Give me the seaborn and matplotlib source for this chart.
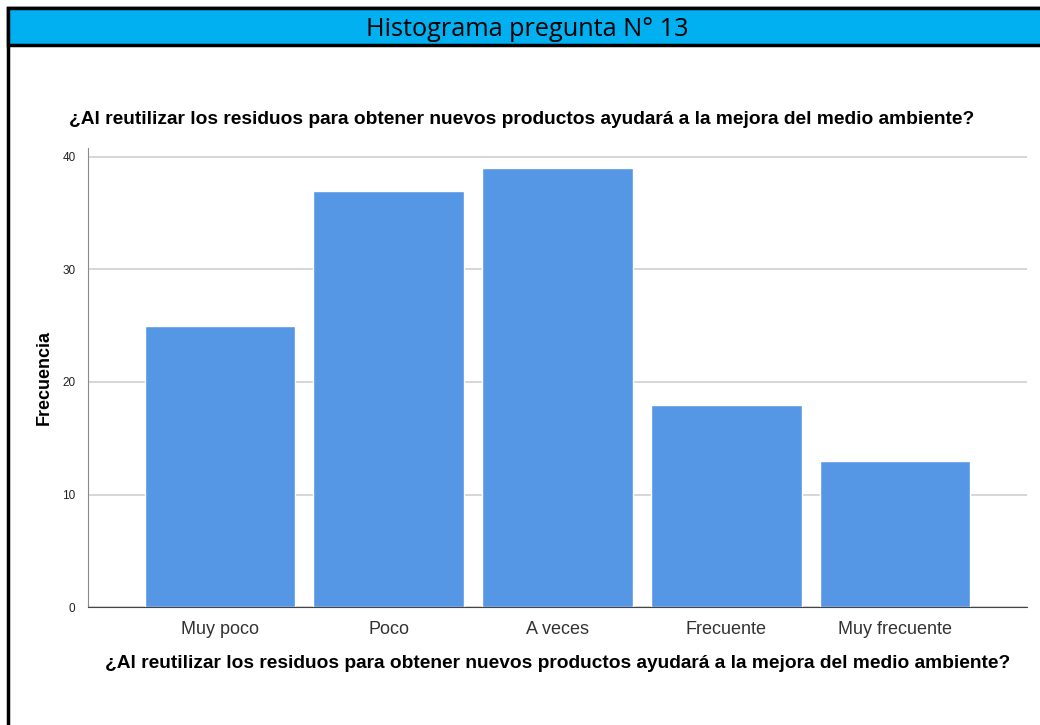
import matplotlib.pyplot as plt
import matplotlib.patches as mpatches
import pandas as pd
import seaborn as sns

categorias = ["Muy poco", "Poco", "A veces", "Frecuente", "Muy frecuente"]
frecuencias = [25, 37, 39, 18, 13]
pregunta = "¿Al reutilizar los residuos para obtener nuevos productos ayudará a la mejora del medio ambiente?"
encabezado = "Histograma pregunta N° 13"

df = pd.DataFrame({"categoria": categorias, "frecuencia": frecuencias})

sns.set_style("white")
plt.rcParams['font.family'] = ['Liberation Sans', 'DejaVu Sans']

W, H = 1040, 725
fig = plt.figure(figsize=(W / 100, H / 100), dpi=100)

# marco exterior y banda del encabezado
fig.patches.append(mpatches.Rectangle((8 / W, -0.1), 1.2, 1.1 - 8 / H, transform=fig.transFigure,
                                      facecolor='none', edgecolor='black', linewidth=2.5, zorder=3))
fig.patches.append(mpatches.Rectangle((8 / W, 1 - 45 / H), 1.2, 37 / H, transform=fig.transFigure,
                                      facecolor='#00B0F0', edgecolor='black', linewidth=2.5, zorder=3))
fig.text(527 / W, 1 - 29 / H, encabezado, ha='center', va='center', fontsize=18.2,
         family=['Open Sans', 'DejaVu Sans'], color='black', zorder=4)

ax = fig.add_axes([88 / W, 1 - 607 / H, (1027 - 88) / W, (607 - 148) / H])
ax.set_facecolor('none')
sns.barplot(data=df, x="categoria", y="frecuencia", color="#5596E5", saturation=1,
            width=0.89, ax=ax, zorder=2)

ax.set_xlim(-0.78, 4.78)
ax.set_ylim(0, 40.8)
ax.set_yticks([0, 10, 20, 30, 40])
ax.yaxis.grid(True, color='#CFCFCF', linewidth=1.2, zorder=0)
ax.set_axisbelow(True)
for s in ['top', 'right']:
    ax.spines[s].set_visible(False)
ax.spines['left'].set_color('#8A8A8A')
ax.spines['bottom'].set_color('#444444')
ax.tick_params(axis='y', length=0, labelsize=8.5, pad=9, colors='#222222')
ax.tick_params(axis='x', length=0, labelsize=13, pad=10, colors='#333333')

# titulo superior centrado sobre la figura
fig.text(522 / W, 1 - 119 / H, pregunta, ha='center', va='center', fontsize=13.8,
         fontweight='bold', color='black')
ax.set_xlabel(pregunta, fontsize=13.8, fontweight='bold', labelpad=12, color='black')
ax.set_ylabel("Frecuencia", fontsize=13, fontweight='bold', labelpad=7, color='black')

fig.savefig("out.png", dpi=100)
